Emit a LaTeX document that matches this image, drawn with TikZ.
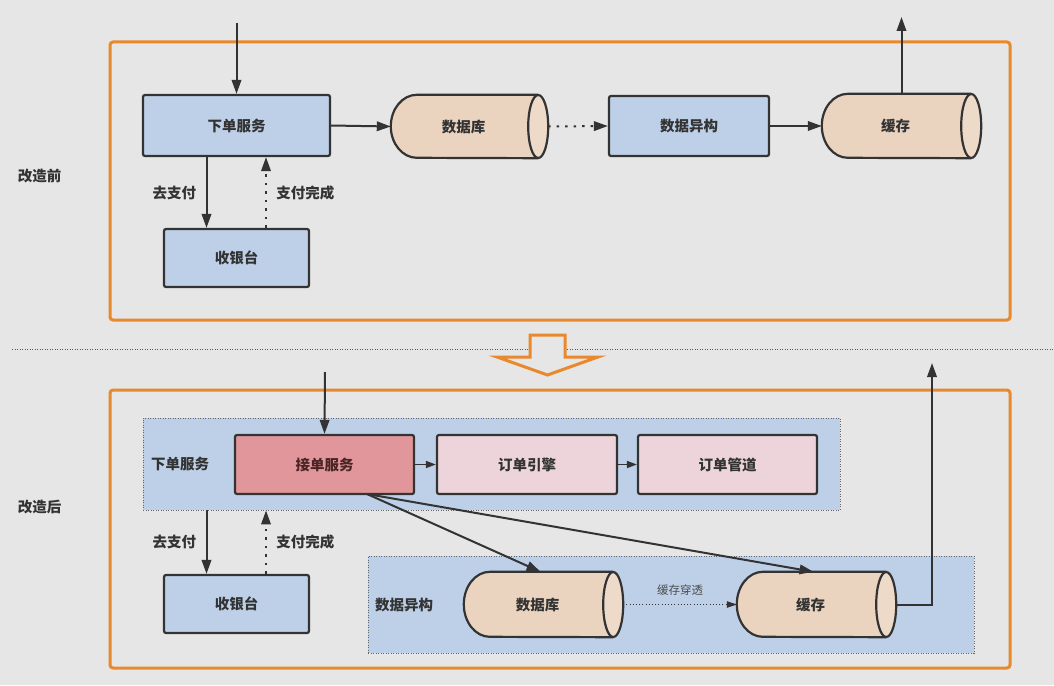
\documentclass[tikz,border=0pt]{standalone}
\usepackage{fontspec}
\setmainfont{Noto Sans CJK SC}
\usetikzlibrary{arrows.meta,calc}
\definecolor{bgc}{HTML}{E6E6E6}
\definecolor{orangec}{HTML}{E8892E}
\definecolor{bluec}{HTML}{BED0E8}
\definecolor{peachc}{HTML}{EAD4C0}
\definecolor{redc}{HTML}{E0969B}
\definecolor{pinkc}{HTML}{ECD4DA}
\definecolor{linec}{HTML}{333333}
\definecolor{redtext}{HTML}{4A2525}
\newcommand{\cylshape}[2]{%
  \fill[peachc] ([xshift=-10pt]#1.north east) -- ([xshift=26pt]#1.north west)
    arc[start angle=90,end angle=270,x radius=26pt,y radius=#2pt]
    -- ([xshift=-10pt]#1.south east)
    arc[start angle=-90,end angle=90,x radius=10pt,y radius=#2pt] -- cycle;
  \draw[linec,line width=2.2pt,line join=round] ([xshift=-10pt]#1.north east) -- ([xshift=26pt]#1.north west)
    arc[start angle=90,end angle=270,x radius=26pt,y radius=#2pt]
    -- ([xshift=-10pt]#1.south east);
  \draw[linec,line width=2.2pt,fill=peachc!85!white] ([xshift=-10pt]#1.east) ellipse[x radius=10pt,y radius=#2pt];
}
\tikzset{
  txt/.style={font=\fontsize{14.5}{17}\selectfont\bfseries,text=linec},
  box/.style={draw=linec,line width=2.2pt,rounded corners=2pt,inner sep=0pt,txt},
  bluebox/.style={box,fill=bluec},
  cyl/.style={inner sep=0pt,txt},
  grp/.style={draw=gray!80!black,line width=0.9pt,dash pattern=on 1pt off 1.5pt,fill=bluec,inner sep=0pt},
  frame/.style={draw=orangec,line width=3pt,rounded corners=3pt},
  arr/.style={draw=linec,line width=2pt,-{Triangle[length=14pt,width=9.5pt]}},
  darr/.style={arr,dash pattern=on 2.5pt off 6pt},
  lab/.style={txt},
}
\begin{document}
\begin{tikzpicture}[x=1pt,y=-1pt]
\useasboundingbox (0,0) rectangle (1054,685);
\fill[bgc] (0,0) rectangle (1054,685);

% separator
\draw[gray!70!black,line width=0.9pt,dash pattern=on 1pt off 1.5pt] (12,349) -- (1054,349);
% big arrow
\draw[orangec,line width=3pt,fill=bgc,line join=miter] (530,335) -- (565,335) -- (565,357) -- (598,357) -- (547.5,375) -- (497,357) -- (530,357) -- cycle;

% frames
\draw[frame] (110,42) rectangle (1010,320);
\draw[frame] (110,390) rectangle (1010,668);

\node[lab] (lbefore) at (39.5,176) {改造前};
\node[lab] (lafter) at (39.5,507) {改造后};

% ---------- before ----------
\node[bluebox,minimum width=187pt,minimum height=61pt] (torder) at (236.5,125.5) {下单服务};
\node[cyl,minimum width=157pt,minimum height=63pt] (tdb) at (469.5,126.5) {};
\cylshape{tdb}{31.5}
\node[txt] at ([xshift=-6pt]tdb.center) {数据库};
\node[bluebox,minimum width=160pt,minimum height=60pt] (thet) at (689,126) {数据异构};
\node[cyl,minimum width=159pt,minimum height=64pt] (tcache) at (901.5,126) {};
\cylshape{tcache}{32}
\node[txt] at ([xshift=-6pt]tcache.center) {缓存};
\node[bluebox,minimum width=145pt,minimum height=58pt] (tcash) at (236.5,258) {收银台};

\coordinate (tin) at (236.5,23);
\coordinate (tout) at (901.5,17);
\draw[arr] (tin) -- (torder.north);
\draw[arr] (tcache.north) -- (tout);
\draw[arr] (torder.east) -- (tdb.west);
\draw[darr] (tdb.east) -- (thet.west);
\draw[arr] (thet.east) -- (tcache.west);
\draw[arr] ([xshift=-30pt]torder.south) -- ([xshift=-30pt]torder.south |- tcash.north) node[midway,left=6pt,lab] {去支付};
\draw[darr] ([xshift=29.5pt]tcash.north) -- ([xshift=29.5pt]tcash.north |- torder.south) node[midway,right=6pt,lab] {支付完成};

% ---------- after ----------
\node[grp,minimum width=697pt,minimum height=92pt] (gorder) at (491.5,464) {};
\node[lab] at (180,464) {下单服务};
\node[grp,minimum width=606pt,minimum height=97pt] (ghet) at (671,604.5) {};
\node[lab] at (404,605) {数据异构};

\node[box,fill=redc,text=redtext,minimum width=179pt,minimum height=59pt] (recv) at (324.5,464.5) {接单服务};
\node[box,fill=pinkc,minimum width=180pt,minimum height=59pt] (engine) at (527,464.5) {订单引擎};
\node[box,fill=pinkc,minimum width=179pt,minimum height=59pt] (pipe) at (727.5,464.5) {订单管道};

\node[cyl,minimum width=159pt,minimum height=65pt] (bdb) at (543.5,604.5) {};
\cylshape{bdb}{32.5}
\node[txt] at ([xshift=-6pt]bdb.center) {数据库};
\node[cyl,minimum width=159pt,minimum height=65pt] (bcache) at (816.5,604.5) {};
\cylshape{bcache}{32.5}
\node[txt] at ([xshift=-6pt]bcache.center) {缓存};
\node[bluebox,minimum width=145pt,minimum height=58pt] (bcash) at (236.5,604) {收银台};

\coordinate (bin) at (325,372);
\coordinate (bout) at (932,363);
\coordinate (dstart) at (367,494);
\draw[arr] (bin) -- (recv.north);
\draw[arr,line width=1.6pt,-{Triangle[length=10pt,width=7pt]}] (recv.east) -- (engine.west);
\draw[arr,line width=1.6pt,-{Triangle[length=10pt,width=7pt]}] (engine.east) -- (pipe.west);
\draw[arr] (dstart) -- ([xshift=-3pt]bdb.north);
\draw[arr] (dstart) -- ([xshift=-3pt]bcache.north);
\draw[arr,line join=miter] (bcache.east) -| (bout);
\draw[arr,line width=1.1pt,dash pattern=on 1pt off 2.2pt,-{Triangle[length=10pt,width=6.5pt]}] (bdb.east) -- (bcache.west)
  node[midway,above=5pt,font=\fontsize{11.5}{14}\selectfont,text=gray!60!black] {缓存穿透};
\draw[arr] ([xshift=-30pt]gorder.south west -| torder.south) -- ([xshift=-30pt]torder.south |- bcash.north) node[midway,left=6pt,lab] {去支付};
\draw[darr] ([xshift=29.5pt]bcash.north) -- ([xshift=29.5pt]bcash.north |- gorder.south) node[midway,right=6pt,lab] {支付完成};
\end{tikzpicture}
\end{document}
